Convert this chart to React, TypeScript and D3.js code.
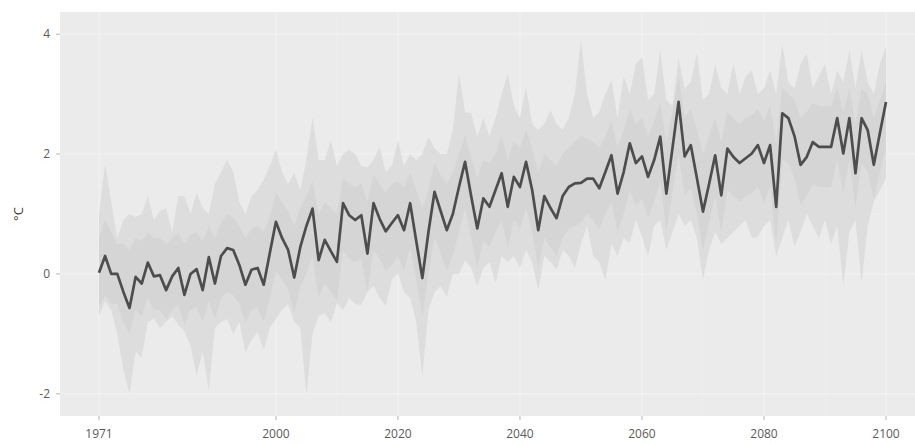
import * as d3 from "d3";
import React from "react";

// yearly series 1971..2100
const years = d3.range(1971, 2101);

const meanTemp = [
  0.02, 0.3, 0.0, 0.0, -0.3, -0.57, -0.05, -0.16, 0.19, -0.04,
  -0.02, -0.27, -0.04, 0.1, -0.35, 0.0, 0.08, -0.27, 0.28, -0.16,
  0.3, 0.43, 0.4, 0.15, -0.18, 0.07, 0.1, -0.18, 0.35, 0.87,
  0.6, 0.4, -0.06, 0.45, 0.8, 1.09, 0.23, 0.57, 0.38, 0.2,
  1.18, 0.98, 0.9, 0.98, 0.34, 1.18, 0.92, 0.71, 0.85, 0.98,
  0.73, 1.18, 0.55, -0.07, 0.7, 1.37, 1.05, 0.73, 1.0, 1.45,
  1.87, 1.3, 0.76, 1.26, 1.12, 1.4, 1.68, 1.12, 1.62, 1.45,
  1.87, 1.4, 0.73, 1.3, 1.1, 0.93, 1.3, 1.45, 1.51, 1.52,
  1.59, 1.59, 1.43, 1.7, 1.98, 1.34, 1.7, 2.18, 1.85, 1.96,
  1.62, 1.9, 2.29, 1.34, 2.1, 2.87, 1.96, 2.15, 1.6, 1.04,
  1.5, 1.98, 1.31, 2.09, 1.95, 1.85, 1.93, 2.01, 2.15, 1.85,
  2.15, 1.12, 2.68, 2.6, 2.3, 1.82, 1.95, 2.2, 2.12, 2.12,
  2.12, 2.6, 2.01, 2.6, 1.68, 2.6, 2.4, 1.82, 2.35, 2.87,
];

const outerHigh = [
  1.0, 1.84, 1.2, 0.6, 0.9, 1.0, 0.95, 1.0, 1.3, 0.9,
  1.05, 1.1, 0.7, 1.3, 1.3, 1.0, 1.35, 1.1, 1.0, 1.5,
  1.7, 1.9, 1.7, 1.2, 1.0, 1.3, 1.4, 1.57, 1.8, 2.07,
  1.7, 1.5, 1.68, 1.4, 1.9, 2.62, 1.9, 1.9, 2.23, 1.8,
  2.0, 2.07, 2.0, 1.8, 1.78, 1.9, 2.12, 1.7, 1.8, 2.23,
  1.8, 2.0, 1.9, 2.0, 2.29, 2.1, 2.0, 2.0, 2.4, 3.34,
  2.7, 2.68, 2.29, 2.6, 2.3, 2.6, 3.0, 3.34, 2.8, 2.6,
  3.12, 2.5, 2.4, 2.5, 2.73, 2.5, 2.4, 2.6, 3.0, 3.9,
  3.0, 2.6, 2.7, 3.0, 3.23, 2.6, 3.3, 3.0, 3.5, 3.62,
  2.9, 3.0, 3.73, 2.9, 2.8, 3.6, 3.1, 3.2, 3.68, 2.9,
  3.0, 3.5, 3.1, 3.0, 3.51, 3.0, 3.3, 3.4, 3.0, 3.1,
  3.4, 3.0, 3.84, 3.2, 3.1, 3.5, 3.68, 3.1, 3.3, 3.5,
  3.0, 3.4, 3.2, 3.73, 3.1, 3.73, 3.2, 3.0, 3.5, 3.8,
];

const outerLow = [
  -0.7, -0.45, -0.6, -1.0, -1.6, -2.0, -1.3, -1.4, -0.8, -0.75,
  -0.9, -0.8, -0.7, -0.85, -0.95, -1.2, -1.7, -1.3, -1.95, -0.9,
  -0.8, -0.75, -1.0, -0.8, -1.31, -1.1, -0.97, -1.27, -0.9, -0.75,
  -0.6, -0.5, -0.8, -0.9, -2.02, -1.0, -0.7, -0.66, -0.8, -0.49,
  -0.6, -0.4, -0.5, -0.52, -0.3, -0.2, -0.4, -0.54, -0.1, 0.01,
  -0.3, -0.4, -0.8, -1.71, -0.6, -0.3, -0.2, -0.39, 0.0, 0.0,
  0.23, 0.1, -0.2, 0.1, 0.2, -0.15, 0.3, 0.2, 0.3, 0.1,
  0.4, 0.2, -0.27, 0.3, 0.2, 0.07, 0.4, 0.3, 0.1, 0.5,
  0.8, 0.3, 0.2, -0.1, 0.5, 0.3, 0.6, 0.51, 0.9, 0.62,
  0.3, 0.8, 0.9, 0.4, 0.7, 1.0, 0.8, 0.9, 0.6, -0.1,
  0.4, 0.7, 0.5, 0.6, 0.7, 0.8, 0.9, 0.6, 0.62, 0.8,
  0.9, 0.3, 0.6, 0.9, 0.46, 0.7, 1.0, 0.8, 0.6, 0.9,
  0.5, 0.8, -0.2, 0.7, 0.9, -0.15, 0.8, 1.2, 1.4, 1.6,
];

const innerHigh = [
  0.6, 0.9, 0.7, 0.5, 0.5, 0.4, 0.6, 0.55, 0.7, 0.6,
  0.6, 0.5, 0.6, 0.7, 0.5, 0.65, 0.7, 0.55, 0.8, 0.6,
  0.85, 1.0, 0.95, 0.8, 0.6, 0.75, 0.8, 0.7, 0.95, 1.35,
  1.2, 1.05, 0.8, 1.1, 1.3, 1.55, 1.0, 1.2, 1.1, 1.0,
  1.6, 1.5, 1.45, 1.5, 1.2, 1.65, 1.5, 1.35, 1.5, 1.55,
  1.45, 1.7, 1.4, 1.1, 1.4, 1.85, 1.65, 1.5, 1.7, 2.0,
  2.3, 1.95, 1.6, 1.9, 1.85, 2.0, 2.3, 1.9, 2.2, 2.1,
  2.4, 2.1, 1.7, 2.0, 1.9, 1.8, 2.0, 2.1, 2.2, 2.3,
  2.25, 2.2, 2.1, 2.3, 2.55, 2.1, 2.4, 2.75, 2.5, 2.6,
  2.3, 2.55, 2.85, 2.2, 2.7, 3.3, 2.6, 2.75, 2.4, 2.0,
  2.3, 2.6, 2.2, 2.7, 2.6, 2.5, 2.6, 2.65, 2.75, 2.55,
  2.8, 2.2, 3.1, 3.0, 2.9, 2.6, 2.7, 2.85, 2.8, 2.8,
  2.8, 3.1, 2.7, 3.1, 2.5, 3.1, 3.0, 2.6, 2.9, 3.2,
];

const innerLow = [
  -0.55, -0.35, -0.5, -0.5, -0.8, -1.0, -0.6, -0.7, -0.4, -0.6,
  -0.6, -0.75, -0.6, -0.5, -0.85, -0.6, -0.55, -0.8, -0.45, -0.75,
  -0.4, -0.3, -0.35, -0.5, -0.8, -0.6, -0.55, -0.8, -0.4, 0.05,
  -0.1, -0.25, -0.65, -0.2, 0.0, 0.3, -0.4, -0.15, -0.3, -0.45,
  0.4, 0.25, 0.2, 0.25, -0.3, 0.4, 0.25, 0.05, 0.15, 0.3,
  0.05, 0.45, -0.1, -0.7, 0.0, 0.6, 0.35, 0.05, 0.3, 0.7,
  1.1, 0.6, 0.1, 0.55, 0.45, 0.7, 0.9, 0.45, 0.9, 0.75,
  1.1, 0.7, 0.1, 0.6, 0.45, 0.3, 0.6, 0.75, 0.8, 0.85,
  1.0, 0.9, 0.75, 1.0, 1.2, 0.7, 1.0, 1.4, 1.15, 1.25,
  0.95, 1.2, 1.55, 0.7, 1.35, 2.0, 1.3, 1.45, 1.0, 0.4,
  0.85, 1.3, 0.7, 1.4, 1.3, 1.2, 1.3, 1.35, 1.45, 1.2,
  1.45, 0.5, 1.9, 1.85, 1.6, 1.15, 1.3, 1.5, 1.45, 1.45,
  1.45, 1.9, 1.35, 1.9, 1.1, 1.85, 1.7, 1.25, 1.7, 2.1,
];

const xTicks = [1971, 2000, 2020, 2040, 2060, 2080, 2100];
const xMinor = [1985.5, 2010, 2030, 2050, 2070, 2090];
const yTicks = [-2, 0, 2, 4];
const yMinor = [-1, 1, 3];

const W = 915;
const H = 444;
const panel = { left: 60, right: 915, top: 12, bottom: 416 };

export default function App() {
  const x = d3.scaleLinear().domain([1971, 2100]).range([99, 886]);
  const y = d3.scaleLinear().domain([-2.37, 4.37]).range([panel.bottom, panel.top]);

  const rows = years.map((yr, i) => ({
    yr,
    m: meanTemp[i],
    oh: outerHigh[i],
    ol: outerLow[i],
    ih: innerHigh[i],
    il: innerLow[i],
  }));

  const outerArea = d3
    .area<any>()
    .x((d) => x(d.yr))
    .y0((d) => y(d.ol))
    .y1((d) => y(d.oh));
  const innerArea = d3
    .area<any>()
    .x((d) => x(d.yr))
    .y0((d) => y(d.il))
    .y1((d) => y(d.ih));
  const line = d3
    .line<any>()
    .x((d) => x(d.yr))
    .y((d) => y(d.m));

  const font = "'Open Sans', 'DejaVu Sans', sans-serif";

  return (
    <svg
      width={W}
      height={H}
      style={{ position: "absolute", left: 0, top: 0, background: "#fff" }}
    >
      <rect
        x={panel.left}
        y={panel.top}
        width={panel.right - panel.left}
        height={panel.bottom - panel.top}
        fill="#ebebeb"
      />
      {/* faint grid */}
      {xMinor.map((t) => (
        <line key={"xm" + t} x1={x(t)} x2={x(t)} y1={panel.top} y2={panel.bottom}
          stroke="#efefef" strokeWidth={0.6} />
      ))}
      {yMinor.map((t) => (
        <line key={"ym" + t} x1={panel.left} x2={panel.right} y1={y(t)} y2={y(t)}
          stroke="#efefef" strokeWidth={0.6} />
      ))}
      {xTicks.map((t) => (
        <line key={"xg" + t} x1={x(t)} x2={x(t)} y1={panel.top} y2={panel.bottom}
          stroke="#f3f3f3" strokeWidth={1} />
      ))}
      {yTicks.map((t) => (
        <line key={"yg" + t} x1={panel.left} x2={panel.right} y1={y(t)} y2={y(t)}
          stroke="#f3f3f3" strokeWidth={1} />
      ))}

      <path d={outerArea(rows) || ""} fill="#dddddd" />
      <path d={innerArea(rows) || ""} fill="#d5d5d5" />
      <path
        d={line(rows) || ""}
        fill="none"
        stroke="#4d4d4d"
        strokeWidth={2.7}
        strokeLinejoin="round"
      />

      {/* axes */}
      {xTicks.map((t) => (
        <g key={"xt" + t} transform={`translate(${x(t)},${panel.bottom})`}>
          <line y1={0} y2={4} stroke="#b3b3b3" />
          <text y={22} textAnchor="middle" fontFamily={font} fontSize={12} fill="#5a5a5a">
            {t}
          </text>
        </g>
      ))}
      {yTicks.map((t) => (
        <g key={"yt" + t} transform={`translate(${panel.left},${y(t)})`}>
          <line x1={-4} x2={0} stroke="#b3b3b3" />
          <text x={-10} dy="0.35em" textAnchor="end" fontFamily={font} fontSize={12} fill="#5a5a5a">
            {t}
          </text>
        </g>
      ))}
      <text
        transform={`translate(18,${(panel.top + panel.bottom) / 2}) rotate(-90)`}
        textAnchor="middle"
        dy="0.35em"
        fontFamily={font}
        fontSize={13}
        fill="#333"
      >
        °C
      </text>
    </svg>
  );
}
